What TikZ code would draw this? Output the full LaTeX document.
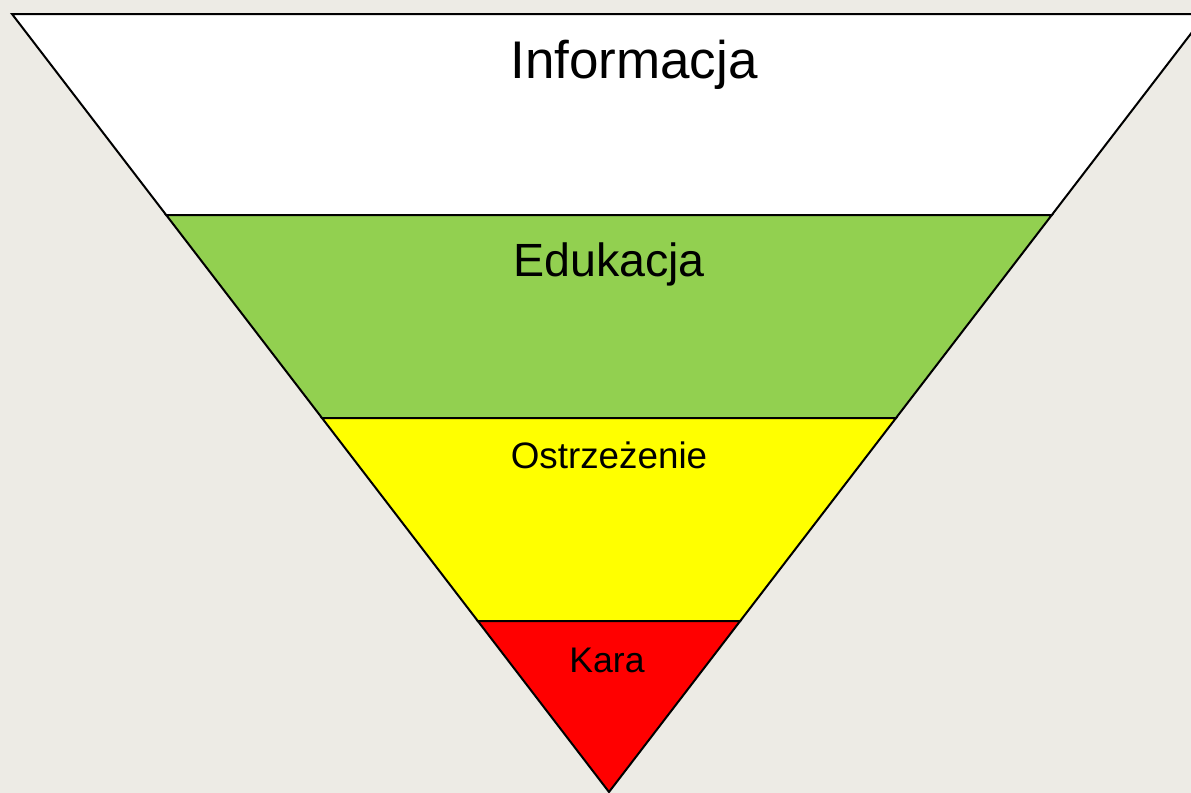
\documentclass[tikz,border=0pt]{standalone}
\usepackage{fontspec}
\setmainfont{Liberation Sans}
\definecolor{stone}{HTML}{EDEBE5}
\definecolor{edugreen}{HTML}{92D050}
\definecolor{warnyellow}{HTML}{FFFF00}
\definecolor{karared}{HTML}{FF0000}
\begin{document}
\begin{tikzpicture}
    [
        x=0.5pt, y=-0.5pt,
        band/.style={draw=black, line width=1pt, line join=miter},
        caption/.style={anchor=base, inner sep=0pt, text=black},
    ]

    % background
    \fill [stone] (0,0) rectangle (1191,793);
    \useasboundingbox (0,0) rectangle (1191,793);
    \clip (0,0) rectangle (1191,793);

    % corners of the funnel
    \coordinate (t1) at (12,14);      \coordinate (t2) at (1206,14);
    \coordinate (e1) at (166.2,215);  \coordinate (e2) at (1051.8,215);
    \coordinate (o1) at (322,418);    \coordinate (o2) at (896,418);
    \coordinate (k1) at (477.8,621);  \coordinate (k2) at (740.2,621);
    \coordinate (apex) at (609,792);

    % bands
    \draw [band, fill=white]      (t1) -- (t2) -- (e2) -- (e1) -- cycle;
    \draw [band, fill=edugreen]   (e1) -- (e2) -- (o2) -- (o1) -- cycle;
    \draw [band, fill=warnyellow] (o1) -- (o2) -- (k2) -- (k1) -- cycle;
    \draw [band, fill=karared]    (k1) -- (k2) -- (apex) -- cycle;

    % labels
    \node (info) at (634,78)  [caption, font=\fontsize{26.5}{30}\selectfont] {Informacja};
    \node (edu)  at (609,276) [caption, font=\fontsize{23.3}{27}\selectfont] {Edukacja};
    \node (warn) at (609,468) [caption, font=\fontsize{18.4}{22}\selectfont] {Ostrzeżenie};
    \node (kara) at (607,672) [caption, font=\fontsize{17.8}{21}\selectfont] {Kara};

\end{tikzpicture}
\end{document}
